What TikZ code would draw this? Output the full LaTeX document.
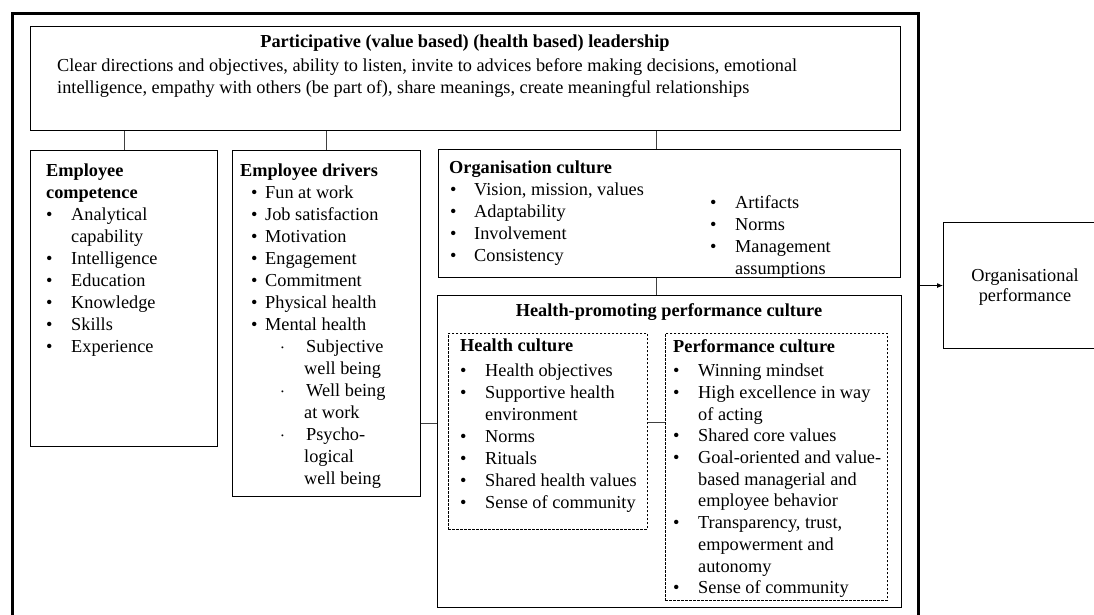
\documentclass[tikz,border=0pt]{standalone}
\usepackage{fontspec}
\setmainfont{Liberation Serif}
\usetikzlibrary{arrows.meta,positioning}

% list helpers
\newcommand{\itm}[2][0pt]{\makebox[25pt][l]{\hspace*{#1}\textbullet}#2}
\newcommand{\cnt}[1]{\hspace*{25pt}#1}
\newcommand{\sub}[1]{\hspace*{41pt}\makebox[25pt][l]{\raisebox{2pt}{\fontsize{8}{8}\selectfont\textbullet}}#1}

\begin{document}
\begin{tikzpicture}[
    x=1pt, y=-1pt,
    every node/.style={font=\fontsize{18.3}{22}\selectfont},
    panel/.style={
        draw,
        line width=1.1pt,
        inner sep=0pt,
        anchor=north west
    },
    dashpanel/.style={
        draw,
        dash pattern=on 2.5pt off 1.5pt,
        line width=0.7pt,
        inner sep=0pt,
        anchor=north west
    },
    txt/.style={
        inner sep=0pt,
        anchor=north west,
        align=left,
        execute at begin node=\strut
    },
    heading/.style={
        inner sep=0pt,
        anchor=north,
        font=\fontsize{18.3}{22}\selectfont\bfseries,
        execute at begin node=\strut
    },
    link/.style={draw=black!75, line width=0.8pt}
]

\useasboundingbox (0,0) rectangle (1094,615);

% Outer frame (open at the bottom)
\draw[line width=3pt] (12,620) |- (918,14) -- (918,620);
\coordinate (fr) at (918,14);

% Leadership
\node[panel, minimum width=870pt, minimum height=104pt] (lead) at (30,26) {};
\node[heading] (leadT) at (465,32) {Participative (value based) (health based) leadership};
\node[txt] (leadB) at (57,58) {
    Clear directions and objectives, ability to listen, invite to advices before making decisions, emotional\\
    intelligence, empathy with others (be part of), share meanings, create meaningful relationships
};

% Employee competence
\node[panel, minimum width=187pt, minimum height=296pt] (comp) at (30,150) {};
\node[txt] (compT) at (46,164) {
    \textbf{Employee}\\
    \textbf{competence}\\
    \itm{Analytical}\\
    \cnt{capability}\\
    \itm{Intelligence}\\
    \itm{Education}\\
    \itm{Knowledge}\\
    \itm{Skills}\\
    \itm{Experience}
};

% Employee drivers
\node[panel, minimum width=188pt, minimum height=346pt] (drv) at (232,150) {};
\node[txt] (drvT) at (240,164) {
    \textbf{Employee drivers}\\
    \itm[11pt]{Fun at work}\\
    \itm[11pt]{Job satisfaction}\\
    \itm[11pt]{Motivation}\\
    \itm[11pt]{Engagement}\\
    \itm[11pt]{Commitment}\\
    \itm[11pt]{Physical health}\\
    \itm[11pt]{Mental health}\\
    \sub{Subjective}\\
    \hspace*{64pt}well being\\
    \sub{Well being}\\
    \hspace*{64pt}at work\\
    \sub{Psycho-}\\
    \hspace*{64pt}logical\\
    \hspace*{64pt}well being
};

% Organisation culture
\node[panel, minimum width=462pt, minimum height=128pt] (org) at (438,149) {};
\node[txt] (orgL) at (449,161) {
    \textbf{Organisation culture}\\
    \itm[1pt]{Vision, mission, values}\\
    \itm[1pt]{Adaptability}\\
    \itm[1pt]{Involvement}\\
    \itm[1pt]{Consistency}
};
\node[txt] (orgR) at (710,195) {
    \itm{Artifacts}\\
    \itm{Norms}\\
    \itm{Management}\\
    \cnt{assumptions}
};

% Health-promoting performance culture
\node[panel, minimum width=464pt, minimum height=312pt] (hppc) at (437,295) {};
\node[heading] (hppcT) at (669,301) {Health-promoting performance culture};

\node[dashpanel, minimum width=199pt, minimum height=196pt] (hlth) at (448,333) {};
\node[txt] (hlthT) at (460,339) {
    \textbf{Health culture}\\[3pt]
    \itm{Health objectives}\\
    \itm{Supportive health}\\
    \cnt{environment}\\
    \itm{Norms}\\
    \itm{Rituals}\\
    \itm{Shared health values}\\
    \itm{Sense of community}
};

\node[dashpanel, minimum width=222pt, minimum height=267pt] (perf) at (665,333) {};
\node[txt, font=\fontsize{18.3}{21.7}\selectfont] (perfT) at (673,339) {
    \textbf{Performance culture}\\[3pt]
    \itm{Winning mindset}\\
    \itm{High excellence in way}\\
    \cnt{of acting}\\
    \itm{Shared core values}\\
    \itm{Goal-oriented and value-}\\
    \cnt{based managerial and}\\
    \cnt{employee behavior}\\
    \itm{Transparency, trust,}\\
    \cnt{empowerment and}\\
    \cnt{autonomy}\\
    \itm{Sense of community}
};

% Organisational performance
\node[panel, minimum width=164pt, minimum height=126pt] (opf) at (943,222) {};
\node[inner sep=0pt, align=center, font=\fontsize{18.3}{20}\selectfont] (opfT) at (1025,287) {Organisational\\performance};

% Connectors
\foreach \b in {comp, drv} {
    \draw[link] (lead.south -| \b.north) -- (\b.north);
}
\draw[link] ([xshift=-13pt]org.north) -- ([xshift=-13pt]org.north |- lead.south);
\draw[link] ([xshift=-13pt]org.south) -- ([xshift=-13pt]org.south |- hppc.north);
\draw[link] ([yshift=28pt]hppc.west) -- ([yshift=28pt]hppc.west -| drv.east);
\draw[link] ([yshift=9pt]hlth.east) -- ([yshift=9pt]hlth.east -| perf.west);
\draw[-{Latex[length=6pt,width=5pt]}, line width=0.8pt] (fr |- opf.west) -- (opf.west);

\end{tikzpicture}
\end{document}
